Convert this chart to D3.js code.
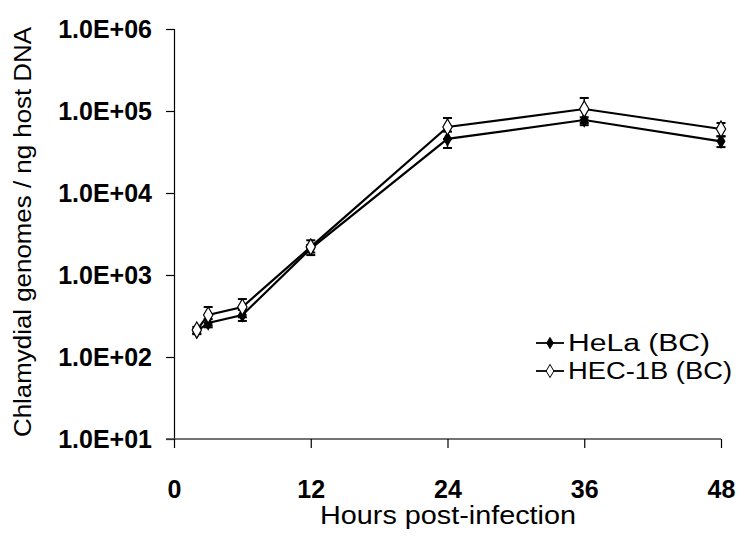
<!DOCTYPE html>
<html>
<head>
<meta charset="utf-8">
<script src="https://cdn.jsdelivr.net/npm/d3@7"></script>
<style>
  html, body { margin: 0; padding: 0; background: #fff; }
  svg { display: block; }
  text { font-family: "Liberation Sans", Arial, sans-serif; fill: #000; }
</style>
</head>
<body>
<svg id="chart" width="750" height="537"></svg>
<script>
// ---- data ----
const hours = [2, 3, 6, 12, 24, 36, 48];
const helaValues = [205, 260, 325, 2100, 45700, 77600, 42700];
const helaErrors = [15, 30, 50, 220, 10300, 6200, 6400];
const hecValues = [213, 325, 407, 2200, 63800, 105700, 60300];
const hecErrors = [20, 82, 102, 450, 18400, 38500, 11100];
const xTicks = [0, 12, 24, 36, 48];
const yTicks = [1e1, 1e2, 1e3, 1e4, 1e5, 1e6];
const yTickLabels = ["1.0E+01", "1.0E+02", "1.0E+03", "1.0E+04", "1.0E+05", "1.0E+06"];
const seriesNames = ["HeLa (BC)", "HEC-1B (BC)"];

(function () {
const svg = d3.select("#chart");
const pL = 174, pR = 721, pT = 29, pB = 439;

const x = d3.scaleLinear().domain([0, 48]).range([pL, pR]);
const y = d3.scaleLog().domain([10, 1e6]).range([pB, pT]);

// axes
const yAxis = d3.axisLeft(y).tickValues(yTicks).tickSize(8).tickPadding(14)
  .tickFormat((d, i) => yTickLabels[i]);
const gy = svg.append("g").attr("transform", `translate(${pL},0)`).call(yAxis);
gy.select(".domain").attr("stroke", "#000").attr("stroke-width", 1.2);
gy.selectAll(".tick line").attr("stroke", "#000").attr("stroke-width", 1.2);
gy.selectAll(".tick text").attr("font-size", 25).attr("font-weight", "bold")
  .attr("font-family", "Liberation Sans, Arial, sans-serif").attr("fill", "#000");

const xAxis = d3.axisBottom(x).tickValues(xTicks).tickSize(9).tickPadding(0)
  .tickFormat(d3.format("d"));
const gx = svg.append("g").attr("transform", `translate(0,${pB})`).call(xAxis);
gx.select(".domain").attr("stroke", "#444").attr("stroke-width", 1.6)
  .attr("d", `M${pL - 8},0H${pR}`);
gx.selectAll(".tick line").attr("stroke", "#000").attr("stroke-width", 1.2);
gx.selectAll(".tick text").attr("font-size", 25).attr("font-weight", "bold")
  .attr("font-family", "Liberation Sans, Arial, sans-serif").attr("fill", "#000")
  .attr("dy", 0).attr("y", 59);

// axis titles
svg.append("text").attr("x", 448).attr("y", 524).attr("text-anchor", "middle")
  .attr("font-size", 25).attr("textLength", 256).attr("lengthAdjust", "spacingAndGlyphs")
  .text("Hours post-infection");
svg.append("text").attr("transform", "translate(31,232) rotate(-90)")
  .attr("text-anchor", "middle").attr("font-size", 23)
  .attr("textLength", 410).attr("lengthAdjust", "spacingAndGlyphs")
  .text("Chlamydial genomes / ng host DNA");

// series
const series = [
  { name: seriesNames[0], values: helaValues, errors: helaErrors, fill: "#000" },
  { name: seriesNames[1], values: hecValues, errors: hecErrors, fill: "#fff" }
];

const line = d3.line().x(d => x(d.h)).y(d => y(d.v));

series.forEach(s => {
  const pts = hours.map((h, i) => ({ h, v: s.values[i], e: s.errors[i] }));
  const g = svg.append("g");
  const eb = g.selectAll(".eb").data(pts).enter().append("g");
  eb.append("line").attr("x1", d => x(d.h)).attr("x2", d => x(d.h))
    .attr("y1", d => y(d.v + d.e)).attr("y2", d => y(Math.max(d.v - d.e, 11)))
    .attr("stroke", "#000").attr("stroke-width", 1.5);
  eb.append("line").attr("x1", d => x(d.h) - 4.5).attr("x2", d => x(d.h) + 4.5)
    .attr("y1", d => y(d.v + d.e)).attr("y2", d => y(d.v + d.e))
    .attr("stroke", "#000").attr("stroke-width", 2);
  eb.append("line").attr("x1", d => x(d.h) - 4.5).attr("x2", d => x(d.h) + 4.5)
    .attr("y1", d => y(d.v - d.e)).attr("y2", d => y(d.v - d.e))
    .attr("stroke", "#000").attr("stroke-width", 2);
  s.pts = pts;
  s.g = g;
});

series.forEach(s => {
  s.g.append("path").datum(s.pts).attr("d", line)
    .attr("fill", "none").attr("stroke", "#000").attr("stroke-width", 2.2);
});
series.forEach(s => {
  s.g.selectAll(".pt").data(s.pts).enter().append("path")
    .attr("transform", d => `translate(${x(d.h)},${y(d.v)})`)
    .attr("d", d3.symbol().type(d3.symbolDiamond).size(s.fill === "#000" ? 50 : 75))
    .attr("fill", s.fill).attr("stroke", "#000").attr("stroke-width", 1.2);
});

// legend
const legendRows = [343, 371];
series.forEach((s, i) => {
  const ly = legendRows[i];
  svg.append("line").attr("x1", 536).attr("x2", 564).attr("y1", ly).attr("y2", ly)
    .attr("stroke", "#000").attr("stroke-width", 1.8);
  svg.append("path").attr("transform", `translate(550,${ly})`)
    .attr("d", d3.symbol().type(d3.symbolDiamond).size(s.fill === "#000" ? 36 : 50))
    .attr("fill", s.fill).attr("stroke", "#000").attr("stroke-width", 1);
  svg.append("text").attr("x", 568).attr("y", ly).attr("dy", "0.36em")
    .attr("font-size", 23)
    .attr("textLength", i === 0 ? 142 : 164).attr("lengthAdjust", "spacingAndGlyphs")
    .text(s.name);
});
})();
</script>
</body>
</html>
